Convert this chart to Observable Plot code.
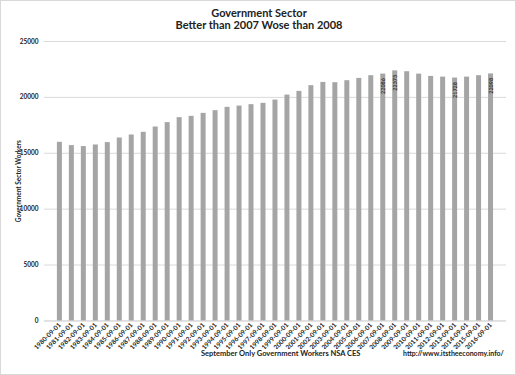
<!DOCTYPE html>
<html>
<head>
<meta charset="utf-8">
<script src="https://cdn.jsdelivr.net/npm/d3@7"></script>
<script src="https://cdn.jsdelivr.net/npm/@observablehq/plot@0.6"></script>
<style>
  body { margin: 0; background: #fff; }
  #wrap { position: relative; width: 514px; height: 373px; border: 1px solid #d9d9d9; font-family: Lato, "Open Sans", sans-serif; overflow: hidden; }
  #title { position: absolute; left: 0; top: 6px; width: 516px; text-align: center; font-weight: bold; font-size: 11px; line-height: 12px; color: #222; }
  #chart { position: absolute; left: -1px; top: 31px; }
  #cap { position: absolute; left: 200px; top: 348px; font-weight: bold; font-size: 7.5px; color: #222; }
  #url { position: absolute; left: 402px; top: 348px; font-weight: bold; font-size: 7px; color: #222; }
</style>
</head>
<body>
<div id="wrap">
  <div id="title">Government Sector<br>Better than 2007 Wose than 2008</div>
  <div id="chart"></div>
  <div id="cap">September Only Government Workers NSA CES</div>
  <div id="url">http://www.itstheeconomy.info/</div>
</div>
<script>
const dates = ["1980-09-01","1981-09-01","1982-09-01","1983-09-01","1984-09-01","1985-09-01","1986-09-01","1987-09-01","1988-09-01","1989-09-01","1990-09-01","1991-09-01","1992-09-01","1993-09-01","1994-09-01","1995-09-01","1996-09-01","1997-09-01","1998-09-01","1999-09-01","2000-09-01","2001-09-01","2002-09-01","2003-09-01","2004-09-01","2005-09-01","2006-09-01","2007-09-01","2008-09-01","2009-09-01","2010-09-01","2011-09-01","2012-09-01","2013-09-01","2014-09-01","2015-09-01","2016-09-01"];
const workers = [15980,15685,15598,15741,15955,16366,16634,16875,17348,17741,18188,18304,18571,18813,19107,19223,19348,19464,19759,20205,20536,21045,21339,21313,21491,21696,21938,22086,22373,22295,22080,21875,21813,21728,21813,21938,22098];
const labeledDates = ["2007-09-01","2008-09-01","2013-09-01","2016-09-01"];
const yTicks = [0,5000,10000,15000,20000,25000];

const data = dates.map((d, i) => ({date: d, value: workers[i]}));
const labeled = data.filter(d => labeledDates.includes(d.date));

const chart = Plot.plot({
  width: 516,
  height: 318,
  marginLeft: 44,
  marginRight: 9,
  marginTop: 9,
  marginBottom: 29,
  style: {fontFamily: "Lato, 'Open Sans', sans-serif", fontWeight: "bold", color: "#222", background: "transparent"},
  x: {type: "band", domain: dates, paddingInner: 0.6, paddingOuter: 0.335, label: null},
  y: {domain: [0, 25000], ticks: yTicks, label: null},
  marks: [
    Plot.gridY(yTicks, {stroke: "#d9d9d9", strokeOpacity: 1}),
    Plot.ruleY([0], {stroke: "#d9d9d9"}),
    Plot.barY(data, {x: "date", y: "value", fill: "#a5a5a5"}),
    Plot.text(labeled, {x: "date", y: "value", text: d => String(d.value), rotate: -90, textAnchor: "end", lineAnchor: "middle", dy: 4, fontSize: 5.5, fill: "#333"}),
    Plot.axisY(yTicks, {tickSize: 0, tickPadding: 6, fontSize: 6.5, tickFormat: d => String(d), label: "Government Sector Workers", labelAnchor: "center", labelOffset: 28, labelArrow: "none"}),
    Plot.axisX({tickSize: 0, tickPadding: 3, tickRotate: -45, fontSize: 6.5, label: null})
  ]
});
document.getElementById("chart").appendChild(chart);
</script>
</body>
</html>
